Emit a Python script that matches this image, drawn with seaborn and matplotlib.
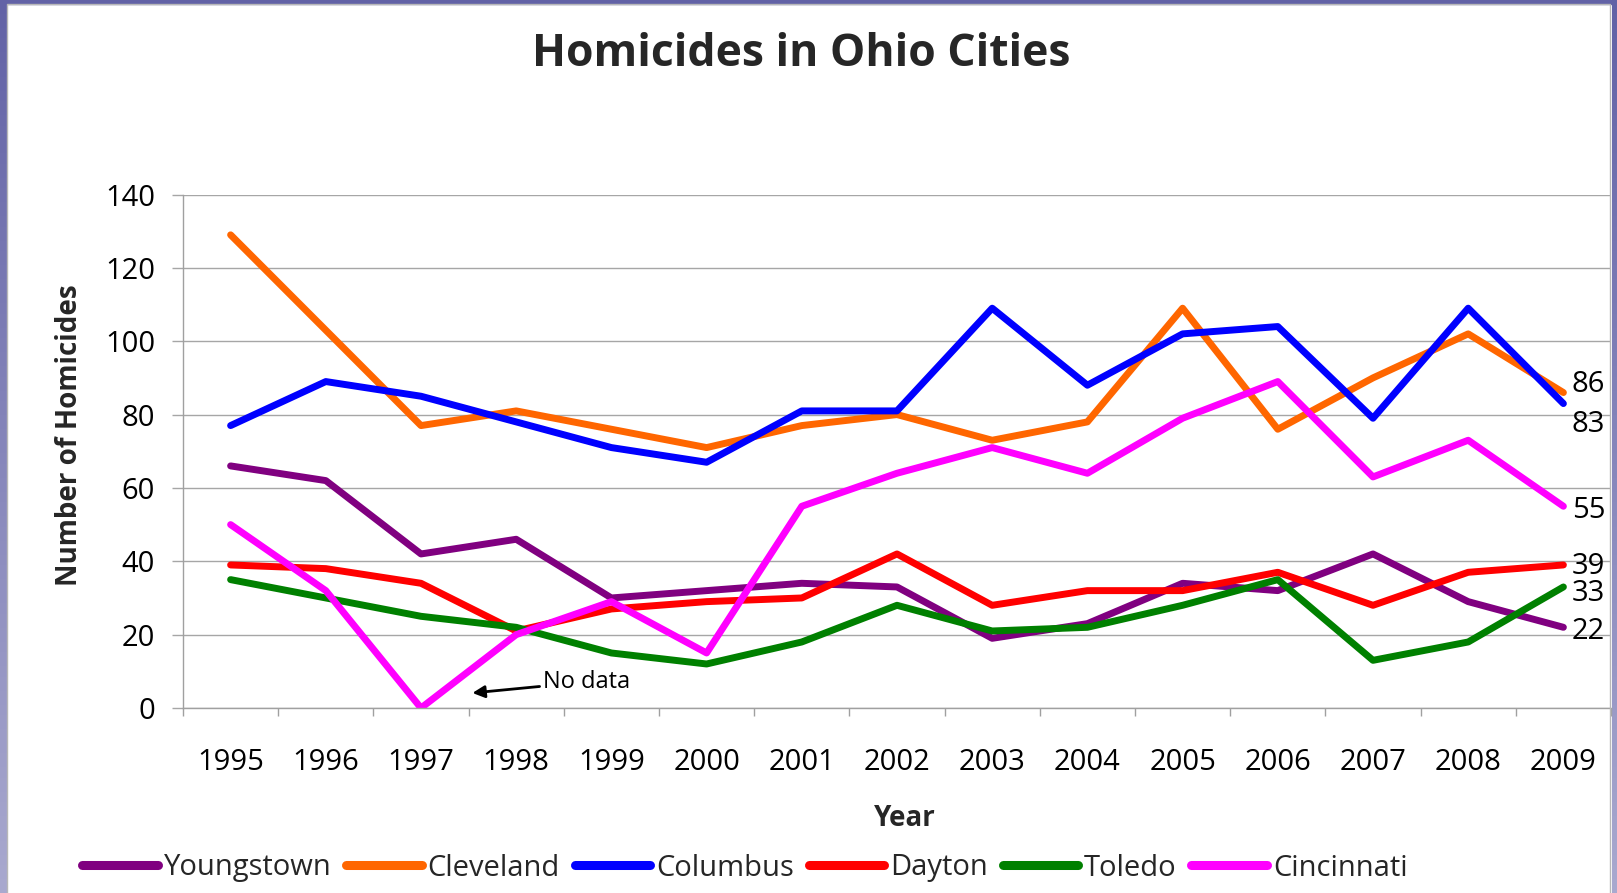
import numpy as np
import pandas as pd
import matplotlib
matplotlib.use('Agg')
import matplotlib.pyplot as plt
from matplotlib.patches import Rectangle
from matplotlib.lines import Line2D
import seaborn as sns

# --- data ---
years = list(range(1995, 2010))
youngstown = [66, 62, 42, 46, 30, 32, 34, 33, 19, 23, 34, 32, 42, 29, 22]
cleveland = [129, 103, 77, 81, 76, 71, 77, 80, 73, 78, 109, 76, 90, 102, 86]
columbus = [77, 89, 85, 78, 71, 67, 81, 81, 109, 88, 102, 104, 79, 109, 83]
dayton = [39, 38, 34, 21, 27, 29, 30, 42, 28, 32, 32, 37, 28, 37, 39]
toledo = [35, 30, 25, 22, 15, 12, 18, 28, 21, 22, 28, 35, 13, 18, 33]
cincinnati = [50, 32, 0, 20, 29, 15, 55, 64, 71, 64, 79, 89, 63, 73, 55]

cities = ['Youngstown', 'Cleveland', 'Columbus', 'Dayton', 'Toledo', 'Cincinnati']
series = [youngstown, cleveland, columbus, dayton, toledo, cincinnati]
colors = ['#800080', '#FF6600', '#0000FF', '#FF0000', '#008000', '#FF00FF']

frames = [pd.DataFrame({'Year': years, 'Homicides': vals, 'City': c})
          for c, vals in zip(cities, series)]
df = pd.concat(frames, ignore_index=True)

# --- style ---
sns.set_theme(style='white')
plt.rcParams['font.family'] = ['Open Sans', 'DejaVu Sans']

W, H = 1617, 893
fig = plt.figure(figsize=(W / 100, H / 100), dpi=100)

# slide background border (purple gradient) + chart area frame
grad = np.linspace(0, 1, 256).reshape(-1, 1)
cmap = matplotlib.colors.LinearSegmentedColormap.from_list('bd', ['#6262a6', '#a9a9cf'])
for rect in ([0, 0, 7 / W, 1], [1612 / W, 0, 5 / W, 1]):
    bax = fig.add_axes(rect)
    bax.imshow(grad, aspect='auto', cmap=cmap)
    bax.axis('off')
fig.add_artist(Rectangle((0, 1 - 4 / H), 1, 4 / H, transform=fig.transFigure,
                         color='#6262a6', zorder=5))
fig.add_artist(Rectangle((7 / W, -0.01), (1610 - 7) / W, 1 - 4 / H + 0.01,
                         transform=fig.transFigure, fill=False,
                         edgecolor='#b8b8b8', linewidth=1.0, zorder=5))

left, right, top, bottom = 183, 1611, 194.5, 708
ax = fig.add_axes([left / W, 1 - bottom / H, (right - left) / W, (bottom - top) / H])

sns.lineplot(data=df, x='Year', y='Homicides', hue='City', palette=dict(zip(cities, colors)),
             linewidth=5.0, ax=ax, legend=False)
for ln in ax.lines:
    ln.set_solid_capstyle('round')
    ln.set_solid_joinstyle('round')

ax.set_xlim(1994.5, 2009.5)
ax.set_ylim(0, 140)
ax.set_yticks(range(0, 141, 20))
ax.set_xticks(years)
ax.set_xticks(np.arange(1994.5, 2010, 1), minor=True)
ax.grid(axis='y', color='#a6a6a6', linewidth=1.0)
ax.set_axisbelow(True)
ax.set_xlabel('')
ax.set_ylabel('')

ax.tick_params(axis='x', which='major', length=0, pad=29, labelsize=21, labelcolor='black')
ax.tick_params(axis='x', which='minor', length=5.5, width=1, color='#a0a0a0', direction='out', bottom=True)
ax.tick_params(axis='y', length=8, width=1, color='#a6a6a6', pad=12, labelsize=21,
               labelcolor='black', left=True)
for s in ['left', 'bottom']:
    ax.spines[s].set_color('#a0a0a0')
    ax.spines[s].set_linewidth(1.0)
for s in ['top', 'right']:
    ax.spines[s].set_visible(False)

# end-of-series value labels (vertical nudges in points, as in the reference)
end_offsets = {'Youngstown': -3, 'Cleveland': 6, 'Columbus': -15,
               'Dayton': -1, 'Toledo': -5, 'Cincinnati': -3}
for c, vals in zip(cities, series):
    ax.annotate(str(vals[-1]), (years[-1], vals[-1]), xytext=(6, end_offsets[c]),
                textcoords='offset points', ha='left', va='center', fontsize=21,
                color='black', annotation_clip=False)

# "No data" note
ax.annotate('No data', xy=(1997.54, 4.1), xytext=(1998.28, 7.1), ha='left', va='center',
            fontsize=17, color='black',
            arrowprops=dict(arrowstyle='-|>', color='black', lw=2.0, mutation_scale=18,
                            shrinkA=0, shrinkB=0))

fig.text(801 / W, 1 - 54 / H, 'Homicides in Ohio Cities', ha='center', va='center',
         fontsize=32, fontweight='bold')
fig.text(70 / W, 1 - 435 / H, 'Number of Homicides', ha='center', va='center',
         rotation=90, fontsize=20, fontweight='bold')
fig.text(905 / W, 1 - 818 / H, 'Year', ha='center', va='center', fontsize=20, fontweight='bold')

handles = [Line2D([0], [0], color=col, linewidth=6.5, solid_capstyle='round') for col in colors]
fig.legend(handles, cities, loc='center left', bbox_to_anchor=(82 / W, 1 - 868 / H),
           ncol=6, frameon=False, fontsize=21, handlelength=2.6, handletextpad=0.2,
           columnspacing=0.5, borderpad=0, borderaxespad=0)

fig.savefig('out.png', dpi=100, facecolor='white')
